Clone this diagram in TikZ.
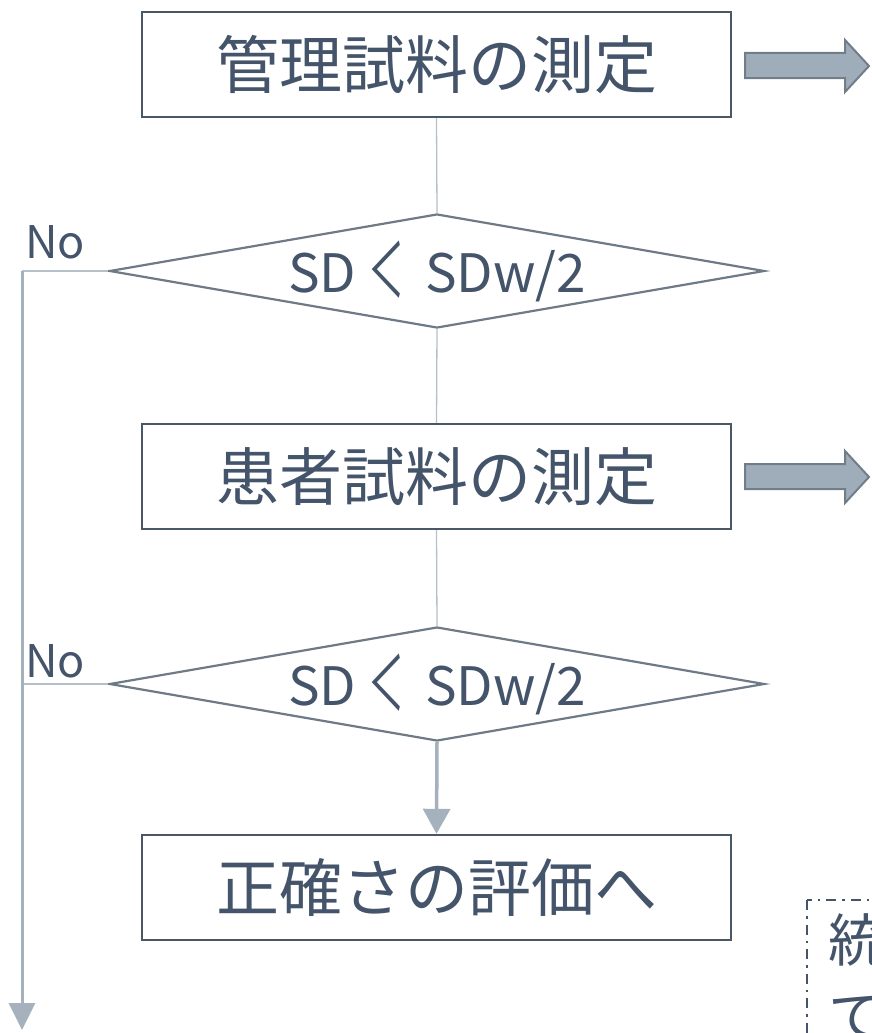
\documentclass[tikz,border=0pt]{standalone}
\usepackage{graphicx}
\usepackage{fontspec}
\setmainfont{Noto Sans CJK JP}
\usetikzlibrary{shapes.geometric,arrows.meta}
\definecolor{txt}{HTML}{44546A}
\definecolor{boxc}{HTML}{4A5866}
\definecolor{diac}{HTML}{6E7B87}
\definecolor{linkc}{HTML}{B4C0CA}
\definecolor{arrc}{HTML}{A5B2BE}
\definecolor{blkfill}{HTML}{9FADBA}
\definecolor{blkdraw}{HTML}{717E8A}
\newcommand{\ltsign}{\hspace{12pt}\raisebox{-5pt}{\scalebox{0.68}[1.4]{＜}}\hspace{21pt}}
\tikzset{
  procbox/.style={draw=boxc, line width=2.4pt, minimum width=589pt, minimum height=105pt,
    inner sep=0pt, text=txt, font=\fontsize{63}{70}\selectfont},
  decision/.style={diamond, draw=diac, line width=2.2pt, aspect=5.75, minimum width=655pt,
    minimum height=114pt, inner sep=0pt, text=txt, font=\fontsize{53}{60}\selectfont},
  link/.style={draw=linkc, line width=1.3pt},
  flowarrow/.style={draw=arrc, line width=3.5pt, -{Triangle[width=27pt,length=25pt]}},
  sidearrow/.style={draw=arrc, line width=3pt, -{Triangle[width=26pt,length=27pt]}},
  nolabel/.style={text=txt, inner sep=0pt, font=\fontsize{45}{50}\selectfont},
  blockarrow/.style={draw=blkdraw, fill=blkfill, line width=2pt, line join=miter},
  notebox/.style={draw=txt, line width=2.6pt, dash pattern=on 10pt off 6pt on 2.5pt off 6pt},
  notetext/.style={text=txt, inner sep=0pt, align=left, anchor=north west,
    font=\fontsize{57}{76}\selectfont}
}
\begin{document}
\begin{tikzpicture}[x=1pt,y=-1pt]
\useasboundingbox (0,0) rectangle (871,1033);
\clip (0,0) rectangle (871,1033);

\node[procbox] (b1) at (436.5,64.5) {管理試料の測定};
\node[decision] (d1) at (437,271) {SD\ltsign SDw/2};
\node[procbox] (b2) at (436.5,476.5) {患者試料の測定};
\node[decision] (d2) at (437,684) {SD\ltsign SDw/2};
\node[procbox] (b3) at (436.5,887.5) {正確さの評価へ};

\node[nolabel] (no1) at (55,242) {No};
\node[nolabel] (no2) at (55,661) {No};

\coordinate (l1) at (22,271);
\coordinate (l2) at (22,684);
\coordinate (lend) at (22,1030);

\draw[link] (b1.south) -- (d1.north);
\draw[link] (d1.south) -- (b2.north);
\draw[link] (b2.south) -- (d2.north);
\draw[flowarrow] (d2.south) -- (b3.north);
\draw[link] (d1.west) -- (l1);
\draw[link] (d2.west) -- (l2);
\draw[sidearrow] (l1) -- (lend);

% block arrows
\draw[blockarrow] (745,53) -- (845,53) -- (845,40) -- (869,66) -- (845,92) -- (845,78) -- (745,78) -- cycle;
\draw[blockarrow] (745,464) -- (845,464) -- (845,451) -- (869,477) -- (845,503) -- (845,489) -- (745,489) -- cycle;

% note box (cut by the picture edge)
\draw[notebox] (807,900) rectangle (920,1120);
\node[notetext] (note) at (828,913) {統計\\て};
\end{tikzpicture}
\end{document}
